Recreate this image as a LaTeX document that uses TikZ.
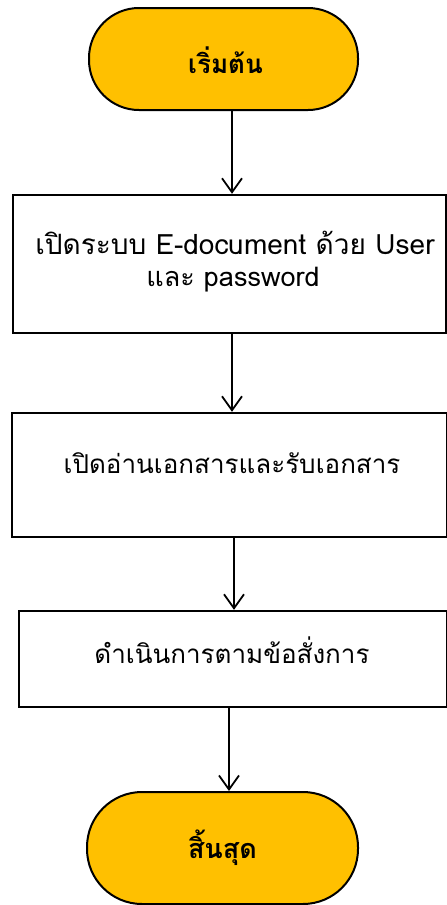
\documentclass[tikz,border=0pt]{standalone}
\usepackage{fontspec}
\setmainfont[Script=Thai]{Loma}
\usetikzlibrary{arrows.meta}
\definecolor{gold}{HTML}{FFC000}
\tikzset{
  term/.style={draw=black, line width=2pt, fill=gold, rounded corners=50pt, inner sep=0pt},
  proc/.style={draw=black, line width=2.4pt, fill=white, inner sep=0pt},
  lbl/.style={inner sep=0pt, font=\fontsize{26}{30}\selectfont},
  tlbl/.style={inner sep=0pt, font=\bfseries\fontsize{26}{30}\selectfont},
  arr/.style={line width=1.8pt, -{Straight Barb[length=14pt,width=20pt,line width=1.8pt]}}
}
\begin{document}
\begin{tikzpicture}[x=1pt,y=-1pt]
\useasboundingbox (0,0) rectangle (447,905);
\fill[white] (0,0) rectangle (447,905);
\node[term, minimum width=269pt, minimum height=102pt] (s) at (223.5,59) {};
\node[tlbl] (st) at (225.5,60) {เริ่มต้น};
\node[proc, minimum width=433pt, minimum height=138pt] (b1) at (229.5,264) {};
\node[lbl, font=\fontsize{28}{30}\selectfont] (t1a) at (235,243) {เปิดระบบ E-document ด้วย User};
\node[lbl, font=\fontsize{27}{30}\selectfont] (t1b) at (233,280) {และ password};
\node[proc, minimum width=435pt, minimum height=124pt] (b2) at (229.5,475) {};
\node[lbl] (t2) at (232,463) {เปิดอ่านเอกสารและรับเอกสาร};
\node[proc, minimum width=428pt, minimum height=96pt] (b3) at (233,659) {};
\node[lbl] (t3) at (232,650) {ดำเนินการตามข้อสั่งการ};
\node[term, minimum width=271pt, minimum height=112pt, rounded corners=55pt] (e) at (222.5,848) {};
\node[tlbl, font=\bfseries\fontsize{27}{30}\selectfont] (et) at (222.5,848) {สิ้นสุด};
\coordinate (c1) at (232,0);
\coordinate (c2) at (232,0);
\coordinate (c3) at (234,0);
\coordinate (c4) at (229,0);
\draw[arr] (s.south -| c1) -- (b1.north -| c1);
\draw[arr] (b1.south -| c2) -- (b2.north -| c2);
\draw[arr] (b2.south -| c3) -- (b3.north -| c3);
\draw[arr] (b3.south -| c4) -- (e.north -| c4);
\end{tikzpicture}
\end{document}
